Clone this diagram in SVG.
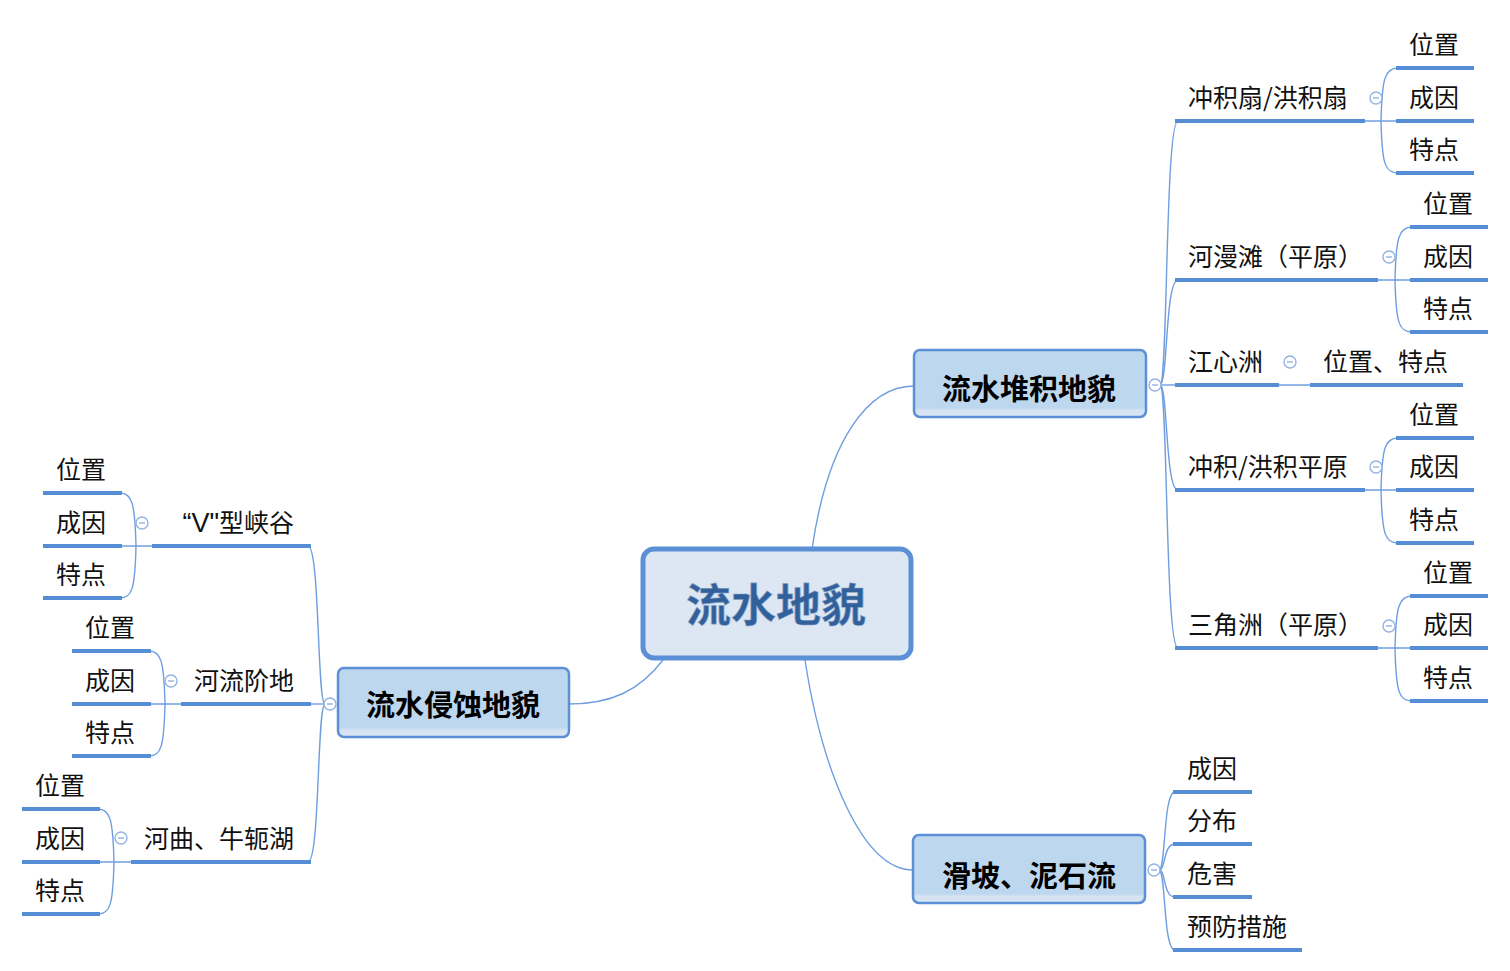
<svg xmlns="http://www.w3.org/2000/svg" width="1510" height="971" viewBox="0 0 1510 971">
<defs>
<linearGradient id="bg" x1="0" y1="0" x2="0" y2="1">
<stop offset="0" stop-color="#bdd7ee"/>
<stop offset="0.86" stop-color="#bdd7ee"/>
<stop offset="0.9" stop-color="#d4e2f2"/>
<stop offset="1" stop-color="#dde7f3"/>
</linearGradient>
<g id="col">
<circle r="6" fill="#ffffff" stroke="#94b3e2" stroke-width="1.4"/>
<line x1="-3" y1="0" x2="3" y2="0" stroke="#94b3e2" stroke-width="1.4"/>
</g>
</defs>
<style>
.t{font-family:"Noto Sans CJK SC","Noto Sans",sans-serif;font-size:25px;fill:#111111}
.b{font-family:"Noto Sans CJK SC","Noto Sans",sans-serif;font-size:29px;font-weight:bold;fill:#000000;text-anchor:middle}
.c{font-family:"Noto Sans CJK SC","Noto Sans",sans-serif;font-size:45px;font-weight:bold;fill:#31609a;text-anchor:middle;stroke:#8aa5c8;stroke-width:0.6}
.u{stroke:#558ed5;stroke-width:4;fill:none;stroke-linecap:butt}
.l{stroke:#6f9ee0;stroke-width:1.4;fill:none}
.bn{fill:url(#bg);stroke:#5b8fd6;stroke-width:2.5}
.e{text-anchor:end}
</style>
<rect width="1510" height="971" fill="#ffffff"/>

<g id="connectors">
<path class="l" d="M812,549 C828,440 868,386 914,386"/>
<path class="l" d="M663,660 C640,690 612,704 569,704"/>
<path class="l" d="M805,660 C822,770 862,870 913,870"/>
<path class="l" d="M1160,385 C1168,385 1165,121 1178,121"/>
<path class="l" d="M1160,385 C1168,385 1165,280 1178,280"/>
<path class="l" d="M1160,385 L1178,385"/>
<path class="l" d="M1160,385 C1168,385 1165,490 1178,490"/>
<path class="l" d="M1160,385 C1168,385 1165,648 1178,648"/>
<path class="l" d="M1365,121 L1398,121 M1381,121 C1382,78 1385,68 1398,68 M1381,121 C1382,164 1385,173 1398,173"/>
<path class="l" d="M1378,280 L1412,280 M1395,280 C1396,237 1399,227 1412,227 M1395,280 C1396,323 1399,332 1412,332"/>
<path class="l" d="M1279,385 L1312,385"/>
<path class="l" d="M1365,490 L1398,490 M1381,490 C1382,448 1385,438 1398,438 M1381,490 C1382,534 1385,543 1398,543"/>
<path class="l" d="M1378,648 L1412,648 M1395,648 C1396,606 1399,596 1412,596 M1395,648 C1396,692 1399,701 1412,701"/>
<path class="l" d="M325,704 C317,704 320,546 308,546"/>
<path class="l" d="M325,704 L308,704"/>
<path class="l" d="M325,704 C317,704 320,862 308,862"/>
<path class="l" d="M152,546 L120,546 M136,546 C135,503 132,493 120,493 M136,546 C135,589 132,598 120,598"/>
<path class="l" d="M181,704 L149,704 M165,704 C164,661 161,651 149,651 M165,704 C164,747 161,756 149,756"/>
<path class="l" d="M131,862 L98,862 M114,862 C113,819 110,809 98,809 M114,862 C113,905 110,914 98,914"/>
<path class="l" d="M1159,870 C1166,870 1163,792 1175,792"/>
<path class="l" d="M1159,870 C1166,870 1163,844 1175,844"/>
<path class="l" d="M1159,870 C1166,870 1163,897 1175,897"/>
<path class="l" d="M1159,870 C1166,870 1163,950 1175,950"/>
</g>

<g id="root">
<rect x="643" y="549" width="268" height="109" rx="11" fill="#dde7f3" stroke="#5b8fd6" stroke-width="5"/>
<text class="c" x="776" y="622">流水地貌</text>
</g>

<g id="n-duiji">
<rect class="bn" x="914" y="350" width="232" height="67" rx="6"/>
<text class="b" x="1029" y="400">流水堆积地貌</text>
<use href="#col" x="1155" y="385"/>
</g>
<g id="n-qinshi">
<rect class="bn" x="338" y="668" width="231" height="69" rx="6"/>
<text class="b" x="453" y="716">流水侵蚀地貌</text>
<use href="#col" x="330" y="704"/>
</g>
<g id="n-huapo">
<rect class="bn" x="913" y="835" width="232" height="68" rx="6"/>
<text class="b" x="1029" y="887">滑坡、泥石流</text>
<use href="#col" x="1154" y="870"/>
</g>

<g id="n-chongjishan">
<line class="u" x1="1175" y1="121" x2="1365" y2="121"/>
<text class="t" x="1188" y="107">冲积扇/洪积扇</text>
<use href="#col" x="1376" y="98"/>
</g>
<g id="n-cjs-1"><line class="u" x1="1396" y1="68" x2="1474" y2="68"/><text class="t" x="1409" y="54">位置</text></g>
<g id="n-cjs-2"><line class="u" x1="1396" y1="121" x2="1474" y2="121"/><text class="t" x="1409" y="107">成因</text></g>
<g id="n-cjs-3"><line class="u" x1="1396" y1="173" x2="1474" y2="173"/><text class="t" x="1409" y="159">特点</text></g>

<g id="n-hemantan">
<line class="u" x1="1175" y1="280" x2="1378" y2="280"/>
<text class="t" x="1188" y="266">河漫滩（平原）</text>
<use href="#col" x="1389" y="257"/>
</g>
<g id="n-hmt-1"><line class="u" x1="1410" y1="227" x2="1488" y2="227"/><text class="t" x="1423" y="213">位置</text></g>
<g id="n-hmt-2"><line class="u" x1="1410" y1="280" x2="1488" y2="280"/><text class="t" x="1423" y="266">成因</text></g>
<g id="n-hmt-3"><line class="u" x1="1410" y1="332" x2="1488" y2="332"/><text class="t" x="1423" y="318">特点</text></g>

<g id="n-jiangxinzhou">
<line class="u" x1="1175" y1="385" x2="1279" y2="385"/>
<text class="t" x="1188" y="371">江心洲</text>
<use href="#col" x="1290" y="362"/>
</g>
<g id="n-jxz-1"><line class="u" x1="1310" y1="385" x2="1463" y2="385"/><text class="t" x="1323" y="371">位置、特点</text></g>

<g id="n-chongjipingyuan">
<line class="u" x1="1175" y1="490" x2="1365" y2="490"/>
<text class="t" x="1188" y="476">冲积/洪积平原</text>
<use href="#col" x="1376" y="467"/>
</g>
<g id="n-cjp-1"><line class="u" x1="1396" y1="438" x2="1474" y2="438"/><text class="t" x="1409" y="424">位置</text></g>
<g id="n-cjp-2"><line class="u" x1="1396" y1="490" x2="1474" y2="490"/><text class="t" x="1409" y="476">成因</text></g>
<g id="n-cjp-3"><line class="u" x1="1396" y1="543" x2="1474" y2="543"/><text class="t" x="1409" y="529">特点</text></g>

<g id="n-sanjiaozhou">
<line class="u" x1="1175" y1="648" x2="1378" y2="648"/>
<text class="t" x="1188" y="634">三角洲（平原）</text>
<use href="#col" x="1389" y="626"/>
</g>
<g id="n-sjz-1"><line class="u" x1="1410" y1="596" x2="1488" y2="596"/><text class="t" x="1423" y="582">位置</text></g>
<g id="n-sjz-2"><line class="u" x1="1410" y1="648" x2="1488" y2="648"/><text class="t" x="1423" y="634">成因</text></g>
<g id="n-sjz-3"><line class="u" x1="1410" y1="701" x2="1488" y2="701"/><text class="t" x="1423" y="687">特点</text></g>

<g id="n-vxiagu">
<line class="u" x1="152" y1="546" x2="311" y2="546"/>
<text class="t e" x="294" y="532"><tspan font-family="Liberation Sans" font-size="27">“V"</tspan>型峡谷</text>
<use href="#col" x="142" y="523"/>
</g>
<g id="n-vx-1"><line class="u" x1="43" y1="493" x2="122" y2="493"/><text class="t" x="56" y="479">位置</text></g>
<g id="n-vx-2"><line class="u" x1="43" y1="546" x2="122" y2="546"/><text class="t" x="56" y="532">成因</text></g>
<g id="n-vx-3"><line class="u" x1="43" y1="598" x2="122" y2="598"/><text class="t" x="56" y="584">特点</text></g>

<g id="n-jiedi">
<line class="u" x1="181" y1="704" x2="311" y2="704"/>
<text class="t e" x="294" y="690">河流阶地</text>
<use href="#col" x="171" y="681"/>
</g>
<g id="n-jd-1"><line class="u" x1="72" y1="651" x2="151" y2="651"/><text class="t" x="85" y="637">位置</text></g>
<g id="n-jd-2"><line class="u" x1="72" y1="704" x2="151" y2="704"/><text class="t" x="85" y="690">成因</text></g>
<g id="n-jd-3"><line class="u" x1="72" y1="756" x2="151" y2="756"/><text class="t" x="85" y="742">特点</text></g>

<g id="n-hequ">
<line class="u" x1="131" y1="862" x2="311" y2="862"/>
<text class="t e" x="294" y="848">河曲、牛轭湖</text>
<use href="#col" x="121" y="838"/>
</g>
<g id="n-hq-1"><line class="u" x1="22" y1="809" x2="100" y2="809"/><text class="t" x="35" y="795">位置</text></g>
<g id="n-hq-2"><line class="u" x1="22" y1="862" x2="100" y2="862"/><text class="t" x="35" y="848">成因</text></g>
<g id="n-hq-3"><line class="u" x1="22" y1="914" x2="100" y2="914"/><text class="t" x="35" y="900">特点</text></g>

<g id="n-hp-1"><line class="u" x1="1173" y1="792" x2="1252" y2="792"/><text class="t" x="1187" y="778">成因</text></g>
<g id="n-hp-2"><line class="u" x1="1173" y1="844" x2="1252" y2="844"/><text class="t" x="1187" y="830">分布</text></g>
<g id="n-hp-3"><line class="u" x1="1173" y1="897" x2="1252" y2="897"/><text class="t" x="1187" y="883">危害</text></g>
<g id="n-hp-4"><line class="u" x1="1173" y1="950" x2="1302" y2="950"/><text class="t" x="1187" y="936">预防措施</text></g>
</svg>
